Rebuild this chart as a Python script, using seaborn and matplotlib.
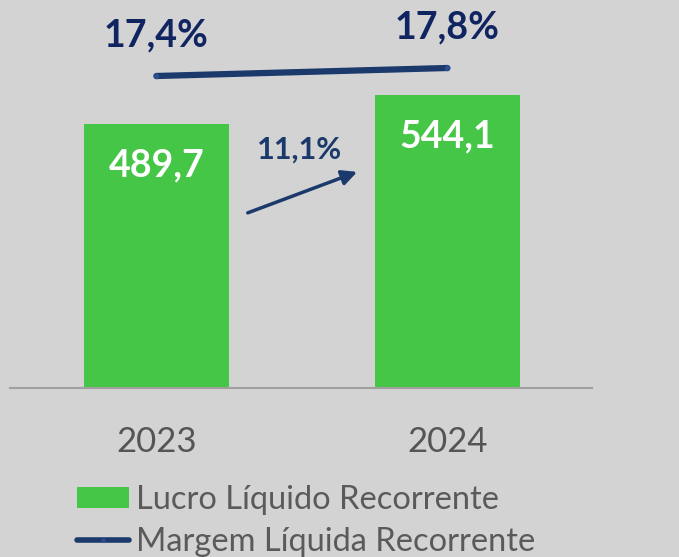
import matplotlib
matplotlib.use("Agg")
import matplotlib.pyplot as plt
import seaborn as sns
from matplotlib.patches import Patch
from matplotlib.lines import Line2D

years = ["2023", "2024"]
lucro = [489.7, 544.1]
margem = [17.4, 17.8]
lucro_labels = ["489,7", "544,1"]
margem_labels = ["17,4%", "17,8%"]
growth_label = "11,1%"

bg = "#d3d3d3"
green = "#46c646"
navy = "#1b3a6b"
dark_navy = "#0f2460"
gray_txt = "#555555"

sns.set_style("white")
plt.rcParams["font.family"] = ["Lato", "DejaVu Sans"]

fig = plt.figure(figsize=(6.79, 5.57), dpi=100, facecolor=bg)
ax = fig.add_axes([10 / 679, 1 - 388 / 557, 582 / 679, 388 / 557])
ax.set_facecolor(bg)

pos = list(range(len(years)))
sns.barplot(x=years, y=lucro, color=green, width=0.5, saturation=1,
            linewidth=0, edgecolor="none", ax=ax)
ax.set_xlim(-0.503, 1.497)
ax.set_ylim(0, 720)

for i, (v, lab) in enumerate(zip(lucro, lucro_labels)):
    ax.annotate(lab, (i, v), xytext=(0, -30), textcoords="offset points",
                ha="center", va="center", color="white", fontsize=27,
                fontweight="bold")

# growth arrow between bars
ax.annotate("", xy=(0.69, 401), xytext=(0.314, 325),
            arrowprops=dict(arrowstyle="-|>,head_length=0.9,head_width=0.45",
                            color=navy, lw=2.5, shrinkA=0, shrinkB=0))
ax.text(0.493, 443, growth_label, ha="center", va="center", color=navy,
        fontsize=22, fontweight="bold")

for s in ["top", "left", "right"]:
    ax.spines[s].set_visible(False)
ax.spines["bottom"].set_color("#a0a0a0")
ax.spines["bottom"].set_linewidth(1.5)
ax.set_yticks([])
ax.tick_params(axis="x", length=0, pad=27, labelsize=25, labelcolor=gray_txt)

# margin line on secondary axis
ax2 = ax.twinx()
sns.lineplot(x=pos, y=margem, color=navy, lw=4.5, ax=ax2,
             solid_capstyle="round", marker="o", markersize=4,
             markerfacecolor="#2a5090", markeredgewidth=0)
ax2.set_ylim(1.8, 21.2)
ax2.set_yticks([])
ax2.set_ylabel("")
for s in ["top", "left", "right", "bottom"]:
    ax2.spines[s].set_visible(False)
for i, (v, lab) in enumerate(zip(margem, margem_labels)):
    ax2.annotate(lab, (i, v), xytext=(0, 29), textcoords="offset points",
                 ha="center", va="center", color=dark_navy, fontsize=27,
                 fontweight="bold")

handles = [Patch(facecolor=green, edgecolor="none"),
           Line2D([0], [0], color=navy, lw=4, solid_capstyle="round",
                  marker="o", markersize=3, markerfacecolor="#2a5090",
                  markeredgewidth=0)]
fig.legend(handles, ["Lucro Líquido Recorrente", "Margem Líquida Recorrente"],
           loc="upper left", bbox_to_anchor=(77 / 679, 1 - 485 / 557),
           frameon=False, fontsize=23.5, labelcolor="#5a5a5a",
           handlelength=1.6, handleheight=0.6, handletextpad=0.2,
           labelspacing=0.38, borderpad=0, borderaxespad=0)

fig.savefig("out.png", dpi=100, facecolor=bg)
